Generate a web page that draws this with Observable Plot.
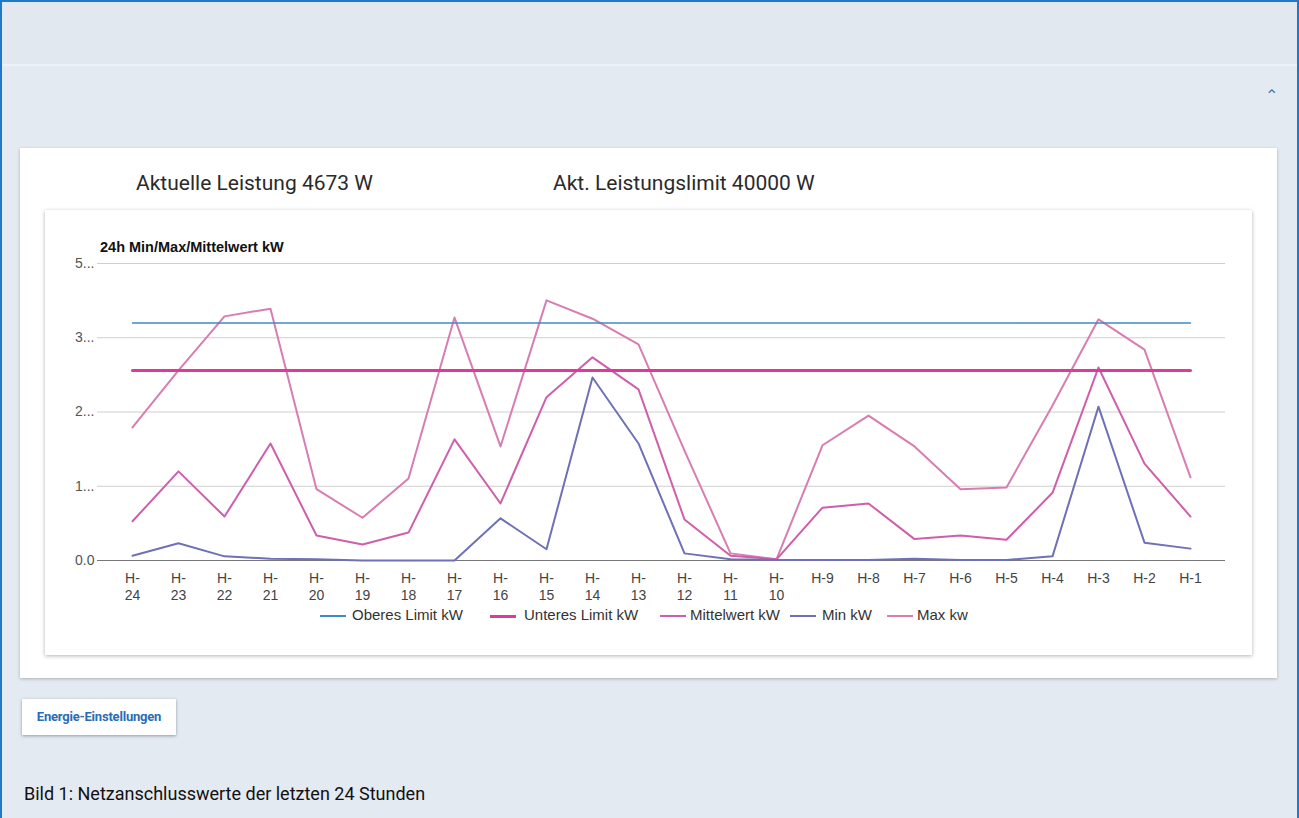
<!DOCTYPE html>
<html>
<head>
<meta charset="utf-8">
<script src="https://cdn.jsdelivr.net/npm/d3@7"></script>
<script src="https://cdn.jsdelivr.net/npm/@observablehq/plot@0.6"></script>
<style>
  html, body { margin: 0; padding: 0; }
  body { width: 1299px; height: 818px; overflow: hidden; background: #e4eaf1; font-family: "Liberation Sans", Arial, sans-serif; position: relative; }
  #frame { position: absolute; left: 0; top: 0; width: 1295px; height: 830px; border: 2px solid #1f78c9; border-bottom: none; }
  #topstrip { position: absolute; left: 2px; top: 2px; width: 1295px; height: 62px; background: #e2e8ef; border-bottom: 2px solid #eef2f6; }
  #chev { position: absolute; left: 1265px; top: 86px; color: #3a7cc0; font-size: 16px; font-family: "DejaVu Sans", sans-serif; }
  #card { position: absolute; left: 20px; top: 148px; width: 1257px; height: 530px; background: #fff; box-shadow: 0 1px 3px rgba(0,0,0,0.25); }
  .hdr { position: absolute; top: 171px; font-size: 21px; color: #2a2a2a; font-family: Roboto, "Liberation Sans", sans-serif; }
  #inner { position: absolute; left: 45px; top: 210px; width: 1207px; height: 445px; background: #fff; box-shadow: 0 1px 4px rgba(0,0,0,0.3); }
  #ctitle { position: absolute; left: 100px; top: 239px; font-size: 14.5px; font-weight: bold; color: #111; }
  #plot { position: absolute; left: 45px; top: 230px; }
  #legend { position: absolute; top: 606px; left: 0; width: 1299px; height: 20px; font-size: 15px; color: #333; }
  .li { position: absolute; top: 0; white-space: nowrap; }
  .sw { display: inline-block; width: 26px; height: 2px; vertical-align: middle; position: absolute; top: 9px; }
  #btn { position: absolute; left: 22px; top: 699px; width: 154px; height: 36px; background: #fff; box-shadow: 0 1px 3px rgba(0,0,0,0.35); color: #2a6cb5; font-size: 13px; font-weight: bold; line-height: 36px; text-align: center; font-family: Roboto, "Liberation Sans", sans-serif; letter-spacing: -0.2px; }
  #caption { position: absolute; left: 24px; top: 783px; font-size: 18px; color: #111; font-family: Roboto, "Liberation Sans", sans-serif; }
</style>
</head>
<body>
<div id="frame"></div>
<div id="topstrip"></div>
<div id="chev">&#8963;</div>
<div id="card"></div>
<div class="hdr" style="left:136px">Aktuelle Leistung 4673 W</div>
<div class="hdr" style="left:553px">Akt. Leistungslimit 40000 W</div>
<div id="inner"></div>
<div id="ctitle">24h Min/Max/Mittelwert kW</div>
<div id="plot"></div>
<div id="legend"></div>
<div id="btn">Energie-Einstellungen</div>
<div id="caption">Bild 1: Netzanschlusswerte der letzten 24 Stunden</div>
<script>
const hours = ["H-24","H-23","H-22","H-21","H-20","H-19","H-18","H-17","H-16","H-15","H-14","H-13","H-12","H-11","H-10","H-9","H-8","H-7","H-6","H-5","H-4","H-3","H-2","H-1"];
const maxKw  = [2.24,3.20,4.11,4.24,1.20,0.72,1.38,4.09,1.92,4.38,4.07,3.64,1.85,0.12,0.02,1.94,2.44,1.92,1.20,1.23,2.61,4.06,3.55,1.40];
const meanKw = [0.66,1.50,0.74,1.97,0.42,0.27,0.47,2.04,0.96,2.75,3.42,2.88,0.69,0.08,0.02,0.89,0.96,0.36,0.42,0.35,1.14,3.25,1.63,0.74];
const minKw  = [0.08,0.29,0.07,0.03,0.02,0.00,0.00,0.00,0.71,0.19,3.08,1.97,0.12,0.02,0.01,0.01,0.01,0.03,0.01,0.01,0.07,2.59,0.30,0.20];
const upperLimit = 4.0;
const lowerLimit = 3.2;
const yTicks = [0, 1.25, 2.5, 3.75, 5];
const yTickLabels = ["0.0", "1...", "2...", "3...", "5..."];
const seriesNames = ["Oberes Limit kW", "Unteres Limit kW", "Mittelwert kW", "Min kW", "Max kw"];
const seriesColors = ["#3d8cc4", "#e0399a", "#cf5eab", "#6f70b7", "#d87db2"];
const seriesWidths = [1.5, 3, 2, 2, 2];

const rows = [];
hours.forEach((h, i) => {
  rows.push({hour: h, series: seriesNames[0], value: upperLimit});
  rows.push({hour: h, series: seriesNames[1], value: lowerLimit});
  rows.push({hour: h, series: seriesNames[2], value: meanKw[i]});
  rows.push({hour: h, series: seriesNames[3], value: minKw[i]});
  rows.push({hour: h, series: seriesNames[4], value: maxKw[i]});
});

const drawOrder = [4, 2, 3, 0, 1];
const lineMarks = drawOrder.map(k => Plot.lineY(rows.filter(r => r.series === seriesNames[k]), {
  x: "hour", y: "value", stroke: seriesColors[k], strokeWidth: seriesWidths[k], strokeLinejoin: "round"
}));

const chart = Plot.plot({
  width: 1207,
  height: 380,
  marginLeft: 52,
  marginRight: 27,
  marginTop: 33,
  marginBottom: 50,
  style: {fontFamily: "'Liberation Sans', Arial, sans-serif", fontSize: "14px", color: "#444", background: "transparent"},
  x: {type: "point", domain: hours, padding: 0.555, label: null},
  y: {domain: [0, 5], label: null},
  marks: [
    Plot.gridY(yTicks.filter(t => t > 0), {stroke: "#cfcfcf", strokeOpacity: 1, strokeWidth: 1}),
    Plot.axisY({ticks: yTicks, tickSize: 0, tickPadding: 3, tickFormat: (d) => yTickLabels[yTicks.indexOf(d)], fill: "#555", fontSize: 14}),
    Plot.axisX({tickSize: 0, tickPadding: 11, fill: "#444", fontSize: 14, lineHeight: 1.2,
      tickFormat: (d) => d.length > 3 ? d.replace("-", "-\n") : d}),
    Plot.ruleY([0], {stroke: "#777", strokeWidth: 1.2}),
    ...lineMarks
  ]
});
document.getElementById("plot").appendChild(chart);

const legendX = [320, 490, 660, 790, 887];
const legendTextX = [352, 524, 690, 822, 917];
const legend = document.getElementById("legend");
seriesNames.forEach((n, k) => {
  const sw = document.createElement("span");
  sw.className = "sw";
  sw.style.left = legendX[k] + "px";
  sw.style.background = seriesColors[k];
  sw.style.height = (k === 1 ? 3 : 2) + "px";
  legend.appendChild(sw);
  const d = document.createElement("div");
  d.className = "li";
  d.style.left = legendTextX[k] + "px";
  d.textContent = n;
  legend.appendChild(d);
});
</script>
</body>
</html>
